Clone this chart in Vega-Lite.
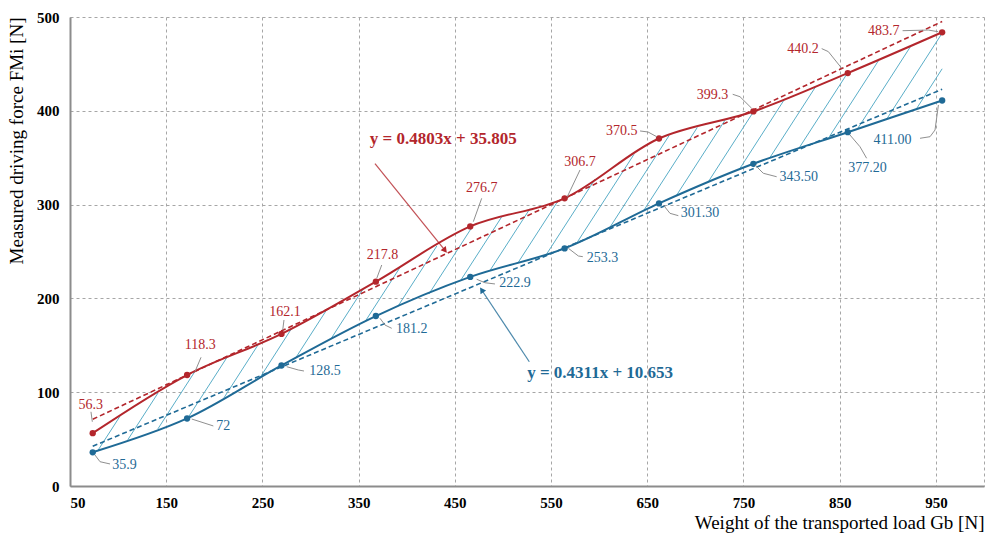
{
  "$schema": "https://vega.github.io/schema/vega-lite/v6.json",
  "width": 914,
  "height": 469,
  "autosize": "none",
  "padding": {"left": 70, "top": 17, "right": 6, "bottom": 54},
  "background": "white",
  "config": {
    "view": {"stroke": null},
    "font": "Liberation Serif",
    "axis": {
      "grid": true,
      "gridDash": [3, 3],
      "gridColor": "#a6a6a6",
      "gridWidth": 1,
      "ticks": false,
      "domainColor": "#8c8c8c",
      "domainWidth": 2,
      "labelFont": "Liberation Serif",
      "labelFontWeight": "bold",
      "labelFontSize": 15,
      "labelColor": "#000000",
      "titleFont": "Liberation Serif",
      "titleFontWeight": "normal",
      "titleFontSize": 19,
      "titleColor": "#000000",
      "titleAnchor": "end"
    }
  },
  "datasets": {
    "main": [
      {"series": "upper", "x": 73.6, "y": 56.3},
      {"series": "upper", "x": 171.7, "y": 118.3},
      {"series": "upper", "x": 269.8, "y": 162.1},
      {"series": "upper", "x": 367.9, "y": 217.8},
      {"series": "upper", "x": 466.0, "y": 276.7},
      {"series": "upper", "x": 564.1, "y": 306.7},
      {"series": "upper", "x": 662.2, "y": 370.5},
      {"series": "upper", "x": 760.3, "y": 399.3},
      {"series": "upper", "x": 858.4, "y": 440.2},
      {"series": "upper", "x": 956.5, "y": 483.7},
      {"series": "lower", "x": 73.6, "y": 35.9},
      {"series": "lower", "x": 171.7, "y": 72.0},
      {"series": "lower", "x": 269.8, "y": 128.5},
      {"series": "lower", "x": 367.9, "y": 181.2},
      {"series": "lower", "x": 466.0, "y": 222.9},
      {"series": "lower", "x": 564.1, "y": 253.3},
      {"series": "lower", "x": 662.2, "y": 301.3},
      {"series": "lower", "x": 760.3, "y": 343.5},
      {"series": "lower", "x": 858.4, "y": 377.2},
      {"series": "lower", "x": 956.5, "y": 411.0}
    ],
    "hatch": [
      {"x": 79.0, "y": 37.9, "x2": 101.8, "y2": 74.1},
      {"x": 110.1, "y": 49.3, "x2": 141.5, "y2": 99.2},
      {"x": 141.3, "y": 60.8, "x2": 179.7, "y2": 121.9},
      {"x": 172.5, "y": 72.5, "x2": 212.9, "y2": 136.7},
      {"x": 210.0, "y": 94.0, "x2": 246.1, "y2": 151.5},
      {"x": 247.5, "y": 115.6, "x2": 280.5, "y2": 168.2},
      {"x": 284.4, "y": 136.3, "x2": 317.7, "y2": 189.3},
      {"x": 320.5, "y": 155.7, "x2": 354.9, "y2": 210.4},
      {"x": 356.6, "y": 175.1, "x2": 392.9, "y2": 232.8},
      {"x": 390.3, "y": 190.7, "x2": 431.3, "y2": 255.9},
      {"x": 423.0, "y": 204.6, "x2": 468.9, "y2": 277.6},
      {"x": 455.6, "y": 218.5, "x2": 498.5, "y2": 286.6},
      {"x": 486.2, "y": 229.2, "x2": 528.1, "y2": 295.7},
      {"x": 515.9, "y": 238.4, "x2": 557.7, "y2": 304.7},
      {"x": 545.6, "y": 247.6, "x2": 595.8, "y2": 327.3},
      {"x": 577.1, "y": 259.7, "x2": 636.2, "y2": 353.6},
      {"x": 611.7, "y": 276.6, "x2": 672.7, "y2": 373.6},
      {"x": 646.2, "y": 293.5, "x2": 702.0, "y2": 382.2},
      {"x": 679.8, "y": 308.9, "x2": 731.3, "y2": 390.8},
      {"x": 712.6, "y": 323.0, "x2": 760.7, "y2": 399.5},
      {"x": 745.4, "y": 337.1, "x2": 793.1, "y2": 413.0},
      {"x": 776.9, "y": 349.2, "x2": 825.5, "y2": 426.5},
      {"x": 807.4, "y": 359.7, "x2": 858.0, "y2": 440.0},
      {"x": 837.9, "y": 370.2, "x2": 891.1, "y2": 454.7},
      {"x": 868.4, "y": 380.6, "x2": 924.2, "y2": 469.4},
      {"x": 898.9, "y": 391.2, "x2": 956.5, "y2": 482.8},
      {"x": 929.4, "y": 401.5, "x2": 956.5, "y2": 444.8}
    ],
    "leaders": [
      {"id": "r1", "o": 1, "x": 73.2, "y": 68.5}, {"id": "r1", "o": 2, "x": 71.8, "y": 79.1},
      {"id": "r2", "o": 1, "x": 179.9, "y": 121.9}, {"id": "r2", "o": 2, "x": 186.2, "y": 137.2},
      {"id": "r3", "o": 1, "x": 271.1, "y": 166.3}, {"id": "r3", "o": 2, "x": 272.4, "y": 177.0},
      {"id": "r4", "o": 1, "x": 368.8, "y": 221.4}, {"id": "r4", "o": 2, "x": 374.0, "y": 235.6},
      {"id": "r5", "o": 1, "x": 469.2, "y": 281.8}, {"id": "r5", "o": 2, "x": 477.9, "y": 306.7},
      {"id": "r6", "o": 1, "x": 566.9, "y": 308.4}, {"id": "r6", "o": 2, "x": 580.1, "y": 336.9},
      {"id": "r7", "o": 1, "x": 659.8, "y": 372.4}, {"id": "r7", "o": 2, "x": 650.8, "y": 377.4}, {"id": "r7", "o": 3, "x": 642.5, "y": 378.5},
      {"id": "r8", "o": 1, "x": 758.5, "y": 402.7}, {"id": "r8", "o": 2, "x": 746.4, "y": 415.0}, {"id": "r8", "o": 3, "x": 738.8, "y": 417.6},
      {"id": "r9", "o": 1, "x": 852.1, "y": 445.3}, {"id": "r9", "o": 2, "x": 838.2, "y": 463.1}, {"id": "r9", "o": 3, "x": 831.3, "y": 466.3},
      {"id": "r10", "o": 1, "x": 952.4, "y": 484.3}, {"id": "r10", "o": 2, "x": 942.0, "y": 486.1}, {"id": "r10", "o": 3, "x": 915.4, "y": 485.4},
      {"id": "b1", "o": 1, "x": 76.0, "y": 33.0}, {"id": "b1", "o": 2, "x": 81.2, "y": 25.9}, {"id": "b1", "o": 3, "x": 91.6, "y": 23.5},
      {"id": "b2", "o": 1, "x": 176.5, "y": 71.4}, {"id": "b2", "o": 2, "x": 185.1, "y": 68.6}, {"id": "b2", "o": 3, "x": 199.0, "y": 64.0},
      {"id": "b3", "o": 1, "x": 275.2, "y": 127.2}, {"id": "b3", "o": 2, "x": 287.3, "y": 123.7}, {"id": "b3", "o": 3, "x": 293.2, "y": 122.6},
      {"id": "b4", "o": 1, "x": 372.2, "y": 178.8}, {"id": "b4", "o": 2, "x": 377.4, "y": 171.6}, {"id": "b4", "o": 3, "x": 384.4, "y": 168.1},
      {"id": "b5", "o": 1, "x": 472.7, "y": 220.4}, {"id": "b5", "o": 2, "x": 481.3, "y": 216.7}, {"id": "b5", "o": 3, "x": 491.7, "y": 215.4},
      {"id": "b6", "o": 1, "x": 568.0, "y": 253.4}, {"id": "b6", "o": 2, "x": 578.4, "y": 245.2}, {"id": "b6", "o": 3, "x": 583.0, "y": 244.5},
      {"id": "b7", "o": 1, "x": 666.7, "y": 299.6}, {"id": "b7", "o": 2, "x": 673.6, "y": 290.7}, {"id": "b7", "o": 3, "x": 682.3, "y": 288.2},
      {"id": "b8", "o": 1, "x": 762.0, "y": 342.2}, {"id": "b8", "o": 2, "x": 770.6, "y": 333.4}, {"id": "b8", "o": 3, "x": 784.5, "y": 329.7},
      {"id": "b9", "o": 1, "x": 860.7, "y": 374.2}, {"id": "b9", "o": 2, "x": 871.1, "y": 361.7}, {"id": "b9", "o": 3, "x": 878.0, "y": 349.4},
      {"id": "b10", "o": 1, "x": 933.5, "y": 370.7}, {"id": "b10", "o": 2, "x": 943.9, "y": 372.4}, {"id": "b10", "o": 3, "x": 949.1, "y": 379.5}, {"id": "b10", "o": 4, "x": 952.6, "y": 406.2}
    ],
    "labels": [
      {"series": "upper", "label": "56.3", "x": 71.5, "y": 86.7},
      {"series": "upper", "label": "118.3", "x": 185.4, "y": 150.3},
      {"series": "upper", "label": "162.1", "x": 273.5, "y": 185.8},
      {"series": "upper", "label": "217.8", "x": 374.8, "y": 246.3},
      {"series": "upper", "label": "276.7", "x": 477.9, "y": 317.7},
      {"series": "upper", "label": "306.7", "x": 580.1, "y": 345.7},
      {"series": "upper", "label": "370.5", "x": 623.4, "y": 378.1},
      {"series": "upper", "label": "399.3", "x": 717.8, "y": 416.8},
      {"series": "upper", "label": "440.2", "x": 811.8, "y": 465.6},
      {"series": "upper", "label": "483.7", "x": 895.8, "y": 485.4},
      {"series": "lower", "label": "35.9", "x": 106.6, "y": 22.7},
      {"series": "lower", "label": "72", "x": 209.3, "y": 64.2},
      {"series": "lower", "label": "128.5", "x": 315.0, "y": 123.1},
      {"series": "lower", "label": "181.2", "x": 405.2, "y": 167.2},
      {"series": "lower", "label": "222.9", "x": 512.5, "y": 216.1},
      {"series": "lower", "label": "253.3", "x": 603.4, "y": 243.6},
      {"series": "lower", "label": "301.30", "x": 704.8, "y": 290.7},
      {"series": "lower", "label": "343.50", "x": 807.4, "y": 329.7},
      {"series": "lower", "label": "377.20", "x": 878.9, "y": 339.2},
      {"series": "lower", "label": "411.00", "x": 904.9, "y": 369.2}
    ],
    "equations": [
      {"series": "upper", "label": "y = 0.4803x + 35.805", "x": 438.0, "y": 369.6},
      {"series": "lower", "label": "y = 0.4311x + 10.653", "x": 601.0, "y": 120.1}
    ],
    "arrows": [
      {"series": "upper", "o": 1, "x": 367.0, "y": 343.7},
      {"series": "upper", "o": 2, "x": 439.8, "y": 251.2},
      {"series": "lower", "o": 1, "x": 527.4, "y": 132.5},
      {"series": "lower", "o": 2, "x": 477.9, "y": 209.0}
    ]
  },
  "encoding": {
    "x": {
      "field": "x",
      "type": "quantitative",
      "scale": {"domain": [50, 1000], "nice": false, "zero": false},
      "axis": {
        "values": [50, 150, 250, 350, 450, 550, 650, 750, 850, 950, 1000],
        "labelExpr": "datum.value == 1000 ? '' : datum.label",
        "labelPadding": 9,
        "title": "Weight of the transported load Gb [N]",
        "titlePadding": 3
      }
    },
    "y": {
      "field": "y",
      "type": "quantitative",
      "scale": {"domain": [0, 500], "nice": false},
      "axis": {
        "values": [0, 100, 200, 300, 400, 500],
        "labelPadding": 11,
        "title": "Measured driving force FMi [N]",
        "titlePadding": 10
      }
    }
  },
  "layer": [
    {
      "data": {"name": "hatch"},
      "mark": {"type": "rule", "color": "#5aaec8", "strokeWidth": 1},
      "encoding": {"x2": {"field": "x2"}, "y2": {"field": "y2"}}
    },
    {
      "data": {"name": "main"},
      "transform": [{"regression": "y", "on": "x", "groupby": ["series"], "extent": [73.6, 956.5]}],
      "mark": {"type": "line", "strokeDash": [5, 3], "strokeWidth": 1.6},
      "encoding": {
        "color": {"field": "series", "type": "nominal", "scale": {"domain": ["upper", "lower"], "range": ["#b3262c", "#1f6a96"]}, "legend": null}
      }
    },
    {
      "data": {"name": "main"},
      "mark": {"type": "line", "interpolate": "catmull-rom", "strokeWidth": 2},
      "encoding": {
        "color": {"field": "series", "type": "nominal", "legend": null}
      }
    },
    {
      "data": {"name": "main"},
      "mark": {"type": "point", "filled": true, "size": 40, "opacity": 1},
      "encoding": {
        "color": {"field": "series", "type": "nominal", "legend": null}
      }
    },
    {
      "data": {"name": "leaders"},
      "mark": {"type": "line", "color": "#8f8f8f", "strokeWidth": 1},
      "encoding": {"detail": {"field": "id"}, "order": {"field": "o"}}
    },
    {
      "data": {"name": "labels"},
      "mark": {"type": "text", "font": "Liberation Serif", "fontSize": 14, "align": "center", "baseline": "middle"},
      "encoding": {
        "text": {"field": "label"},
        "color": {"field": "series", "type": "nominal", "legend": null}
      }
    },
    {
      "data": {"name": "arrows"},
      "mark": {"type": "line", "strokeWidth": 1.2, "opacity": 0.8},
      "encoding": {
        "detail": {"field": "series"},
        "order": {"field": "o"},
        "color": {"field": "series", "type": "nominal", "legend": null}
      }
    },
    {
      "data": {"name": "arrows"},
      "transform": [{"filter": "datum.o == 2 && datum.series == 'upper'"}],
      "mark": {"type": "point", "shape": "triangle-up", "filled": true, "size": 45, "angle": 141, "opacity": 1},
      "encoding": {"color": {"field": "series", "type": "nominal", "legend": null}}
    },
    {
      "data": {"name": "arrows"},
      "transform": [{"filter": "datum.o == 2 && datum.series == 'lower'"}],
      "mark": {"type": "point", "shape": "triangle-up", "filled": true, "size": 45, "angle": 326, "opacity": 1},
      "encoding": {"color": {"field": "series", "type": "nominal", "legend": null}}
    },
    {
      "data": {"name": "equations"},
      "mark": {"type": "text", "font": "Liberation Serif", "fontSize": 17, "fontWeight": "bold", "align": "center", "baseline": "middle"},
      "encoding": {
        "text": {"field": "label"},
        "color": {"field": "series", "type": "nominal", "legend": null}
      }
    }
  ]
}
